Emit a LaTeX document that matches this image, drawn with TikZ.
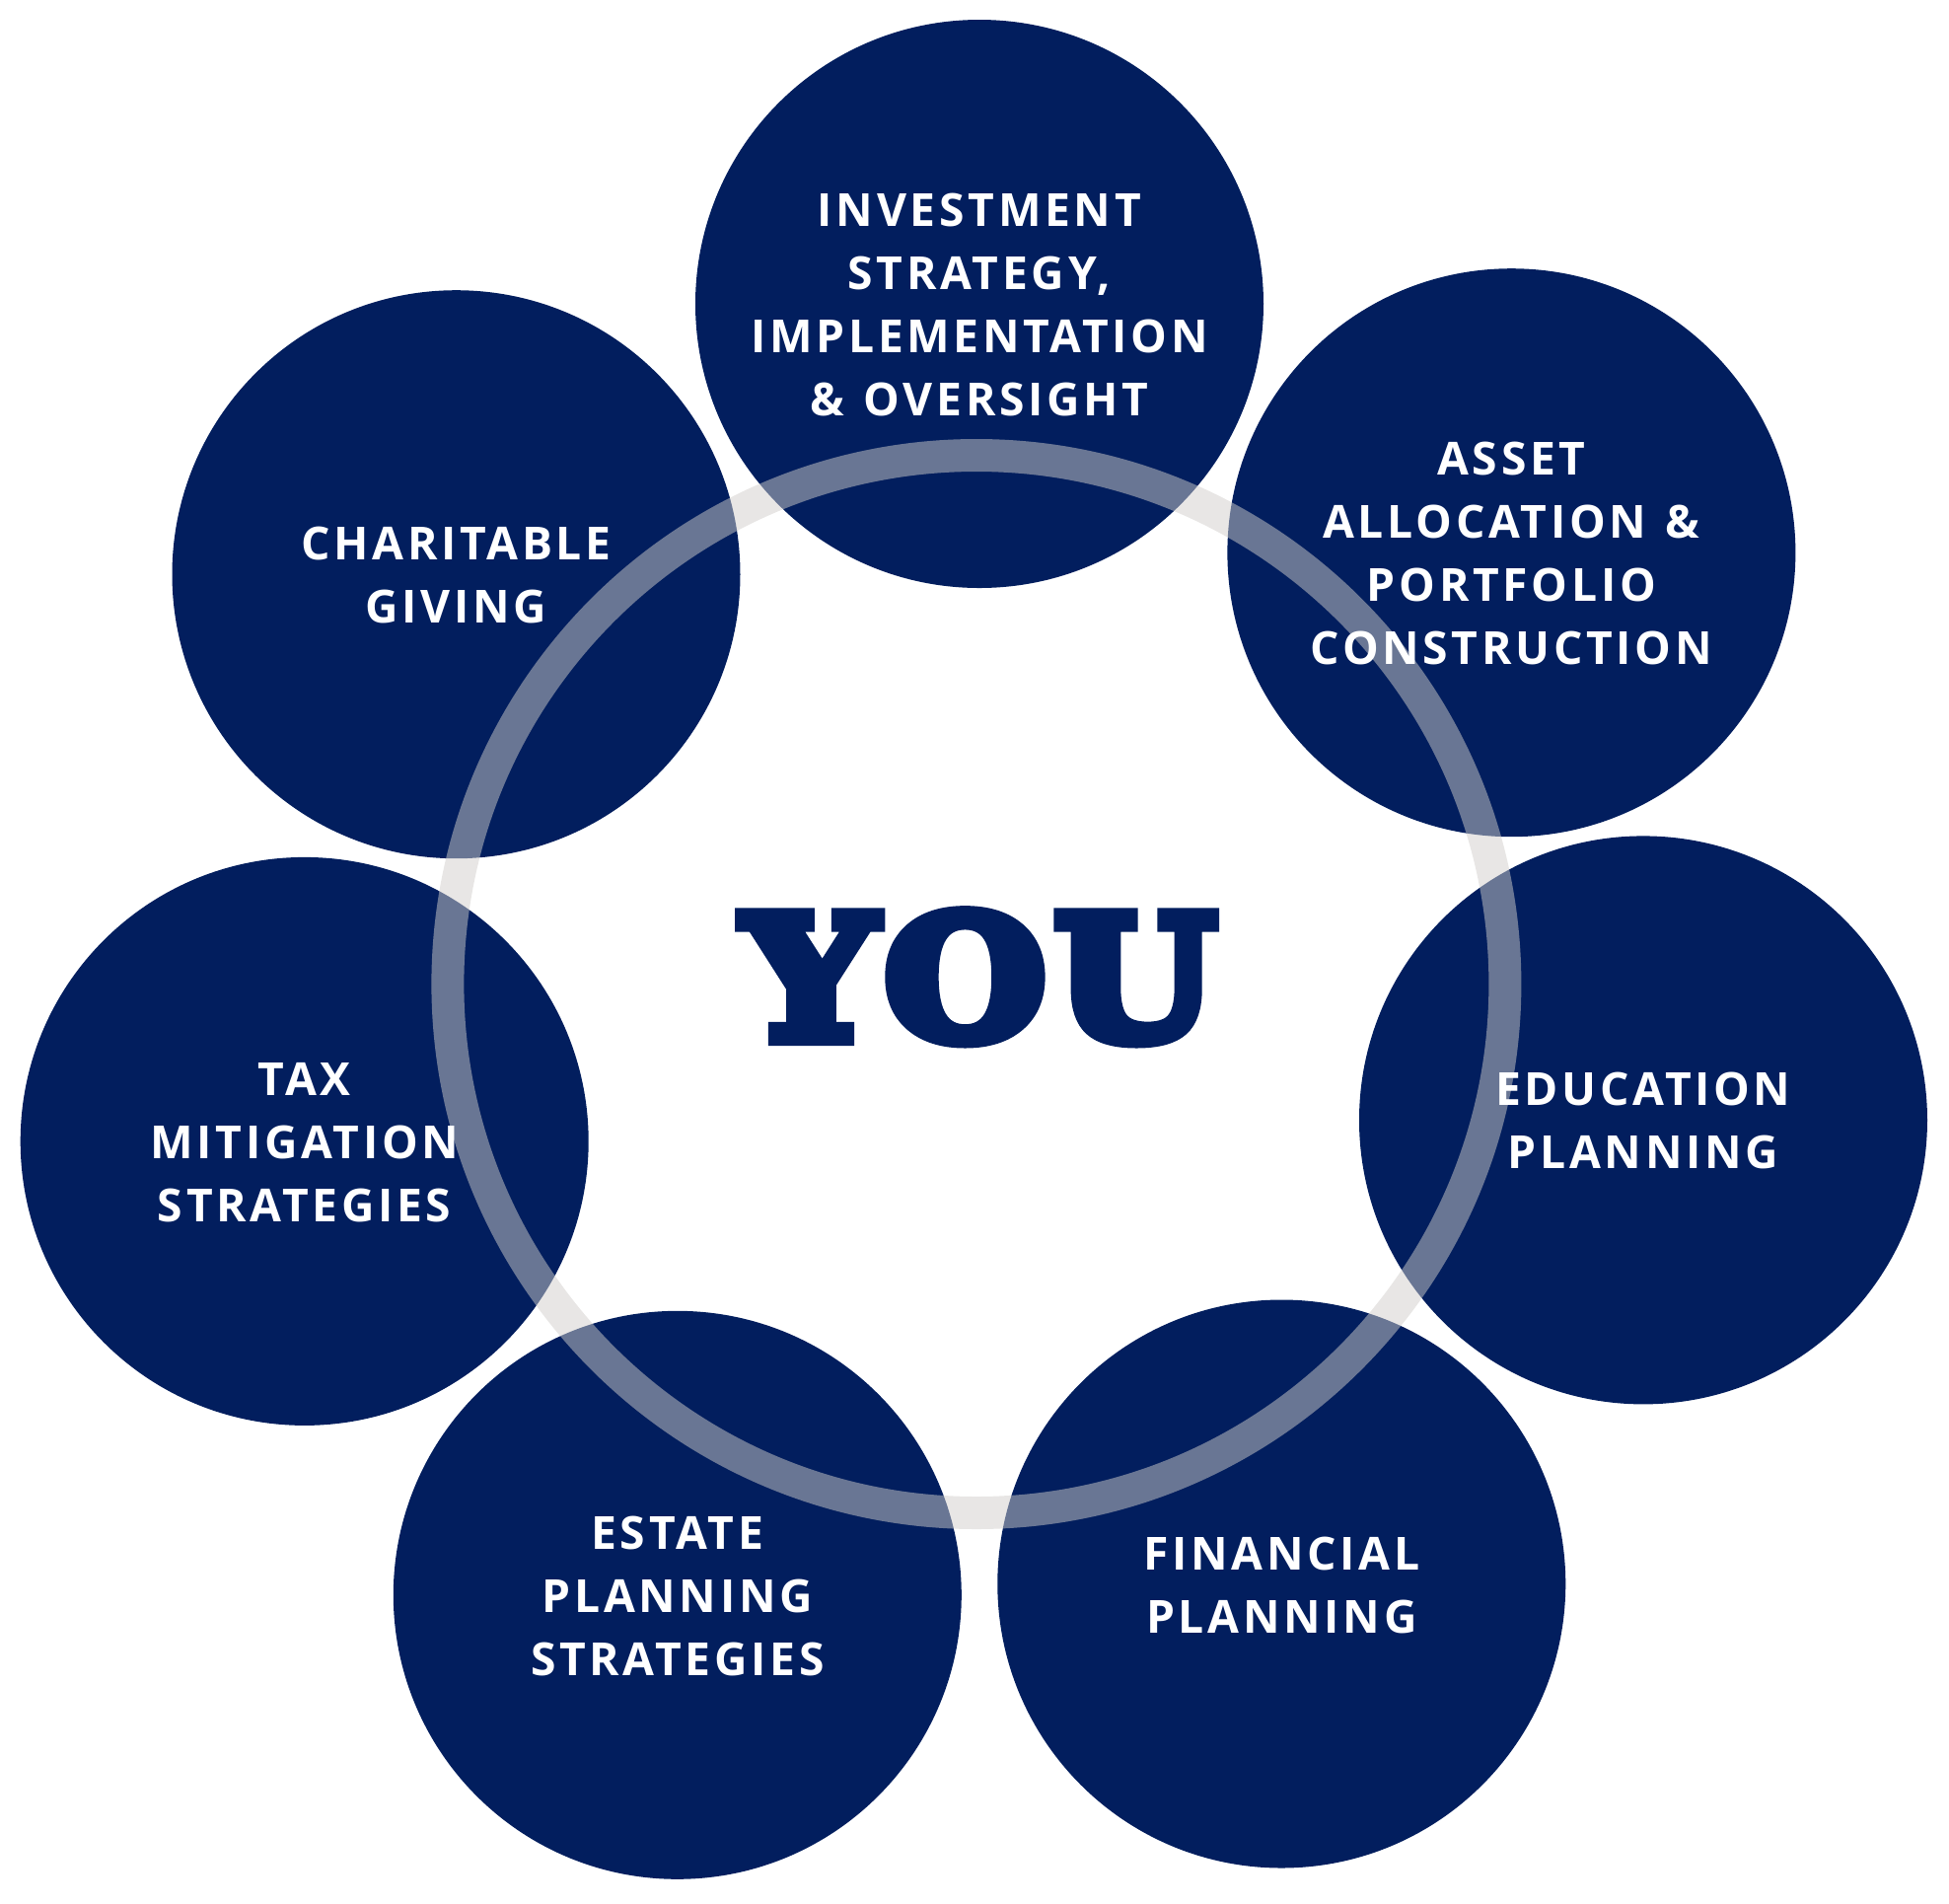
\documentclass[tikz,border=0pt]{standalone}
\usepackage{fontspec}
\newfontfamily\labfont[LetterSpace=8,WordSpace=1.25]{Open Sans}
\newfontfamily\youfont[LetterSpace=5]{DejaVu Serif}
\definecolor{navy}{RGB}{2,30,94}
\definecolor{ringc}{RGB}{209,206,203}
\newcommand{\heavytext}[1]{\special{pdf:literal direct q 2 Tr 4 w 0 j}#1\special{pdf:literal direct Q}}
\tikzset{
  bub/.style={circle, fill=navy, draw=none, minimum size=5.76cm, inner sep=0pt},
  lab/.style={text=white, align=center, inner sep=0pt, yshift=-0.01cm,
    font=\labfont\bfseries\fontsize{13.15pt}{18.2pt}\selectfont},
  ringline/.style={draw=ringc, line width=0.33cm, opacity=0.5}
}
\begin{document}
\begin{tikzpicture}
\useasboundingbox (0,0) rectangle (19.76,-19.30);
\node[bub] (inv) at (9.930,-3.080) {};
\node[bub] (asset) at (15.324,-5.602) {};
\node[bub] (edu) at (16.660,-11.354) {};
\node[bub] (fin) at (12.993,-16.055) {};
\node[bub] (est) at (6.868,-16.168) {};
\node[bub] (tax) at (3.087,-11.569) {};
\node[bub] (char) at (4.625,-5.822) {};
\coordinate (ctr) at (9.899,-9.975);
\draw[ringline] (ctr) circle (5.36);
\node[lab] (tinv) at (inv.center) {INVESTMENT\\STRATEGY,\\IMPLEMENTATION\\\& OVERSIGHT};
\node[lab] (tasset) at (asset.center) {ASSET\\ALLOCATION \&\\PORTFOLIO\\CONSTRUCTION};
\node[lab] (tedu) at (edu.center) {EDUCATION\\PLANNING};
\node[lab] (tfin) at (fin.center) {FINANCIAL\\PLANNING};
\node[lab] (test) at (est.center) {ESTATE\\PLANNING\\STRATEGIES};
\node[lab] (ttax) at (tax.center) {TAX\\MITIGATION\\STRATEGIES};
\node[lab] (tchar) at (char.center) {CHARITABLE\\GIVING};
\node[anchor=base, inner sep=0pt, text=navy,
  font=\youfont\bfseries\fontsize{49pt}{54pt}\selectfont] (you) at (9.935,-10.53)
  {\scalebox{1.086}[1]{\heavytext{YOU}}};
\end{tikzpicture}
\end{document}
